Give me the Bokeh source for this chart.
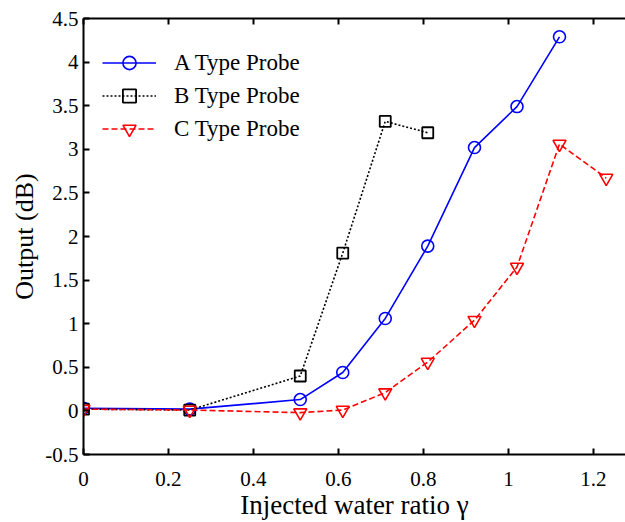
from bokeh.plotting import figure
from bokeh.models import LinearAxis, FixedTicker, Range1d, Legend, LegendItem
from bokeh.embed import file_html
from bokeh.resources import INLINE

# ---- data ----
x_a = [0, 0.25, 0.51, 0.61, 0.71, 0.81, 0.92, 1.02, 1.12]
y_a = [0.03, 0.02, 0.13, 0.44, 1.06, 1.89, 3.02, 3.49, 4.29]

x_b = [0, 0.25, 0.51, 0.61, 0.71, 0.81]
y_b = [0.02, 0.01, 0.40, 1.81, 3.32, 3.19]

x_c = [0, 0.25, 0.51, 0.61, 0.71, 0.81, 0.92, 1.02, 1.12, 1.23]
y_c = [0.02, 0.01, -0.02, 0.01, 0.21, 0.56, 1.04, 1.65, 3.06, 2.67]

series_names = ["A Type Probe", "B Type Probe", "C Type Probe"]

x_ticks = [0, 0.2, 0.4, 0.6, 0.8, 1.0, 1.2]
x_tick_labels = ["0", "0.2", "0.4", "0.6", "0.8", "1", "1.2"]
y_ticks = [-0.5, 0, 0.5, 1, 1.5, 2, 2.5, 3, 3.5, 4, 4.5]
y_tick_labels = ["-0.5", "0", "0.5", "1", "1.5", "2", "2.5", "3", "3.5", "4", "4.5"]

FONT = "Liberation Serif"

p = figure(width=625, height=522, output_backend="svg", toolbar_location=None,
           x_range=Range1d(0, 1.2753), y_range=Range1d(-0.5, 4.5),
           x_axis_location=None, y_axis_location=None,
           min_border_left=83, min_border_right=0, min_border_top=18,
           min_border_bottom=67)
p.outline_line_color = None
p.grid.visible = False
p.background_fill_color = "white"
p.border_fill_color = "white"

def style_axis(ax, show_labels=True):
    ax.axis_line_color = "black"
    ax.axis_line_width = 2
    ax.major_tick_in = 6
    ax.major_tick_out = 0
    ax.major_tick_line_width = 2
    ax.minor_tick_line_color = None
    ax.major_label_text_font = FONT
    ax.major_label_text_font_size = "21px" if show_labels else "0px"
    ax.major_label_text_color = "black" if show_labels else None
    ax.axis_label_text_font = FONT
    ax.axis_label_text_font_style = "normal"
    ax.axis_label_text_font_size = "27px"
    ax.axis_label_text_color = "black"

xb = LinearAxis(ticker=FixedTicker(ticks=x_ticks),
                major_label_overrides=dict(zip(x_ticks, x_tick_labels)),
                axis_label="Injected water ratio \u03b3")
style_axis(xb)
xb.major_label_standoff = 17
xb.axis_label_standoff = 1
p.add_layout(xb, "below")

xt = LinearAxis(ticker=FixedTicker(ticks=x_ticks))
style_axis(xt, show_labels=False)
xt.major_label_standoff = 0
p.add_layout(xt, "above")

yl = LinearAxis(ticker=FixedTicker(ticks=y_ticks),
                major_label_overrides=dict(zip(y_ticks, y_tick_labels)),
                axis_label="Output (dB)")
style_axis(yl)
yl.axis_label_text_font_size = "26px"
yl.major_label_standoff = 5
yl.axis_label_standoff = 3
p.add_layout(yl, "left")

# series
la = p.line(x_a, y_a, line_color="#0000ff", line_width=1.6)
sa = p.scatter(x_a, y_a, marker="circle", size=12, fill_color=None,
               line_color="#0000ff", line_width=1.6)

lb = p.line(x_b, y_b, line_color="black", line_width=1.6, line_dash="2 2")
sb = p.scatter(x_b, y_b, marker="square", size=11, fill_color=None,
               line_color="black", line_width=1.8)

lc = p.line(x_c, y_c, line_color="#ff0000", line_width=1.6, line_dash="6 3")
sc = p.scatter(x_c, y_c, marker="inverted_triangle", size=13, fill_color=None,
               line_color="#ff0000", line_width=1.6)

legend = Legend(items=[
    LegendItem(label=series_names[0], renderers=[la, sa]),
    LegendItem(label=series_names[1], renderers=[lb, sb]),
    LegendItem(label=series_names[2], renderers=[lc, sc]),
], location=(19, 309))
legend.border_line_color = None
legend.background_fill_alpha = 0
legend.label_text_font = FONT
legend.label_text_font_size = "23px"
legend.label_text_color = "black"
legend.glyph_width = 54
legend.glyph_height = 33
legend.label_height = 33
legend.spacing = 0
legend.label_standoff = 18
legend.padding = 0
legend.margin = 0
p.add_layout(legend, "center")

open("out.html", "w").write(file_html(p, INLINE))
